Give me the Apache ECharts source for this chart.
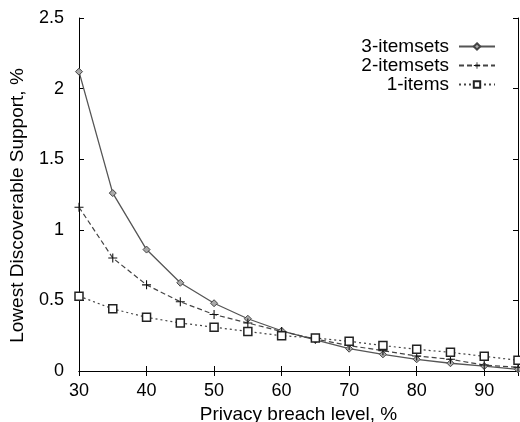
<!DOCTYPE html>
<html>
<head>
<meta charset="utf-8">
<script src="https://cdn.jsdelivr.net/npm/echarts@6/dist/echarts.min.js"></script>
<style>
  html, body { margin: 0; padding: 0; background: #fff; }
  #main { width: 520px; height: 422px; }
</style>
</head>
<body>
<div id="main"></div>
<script>
// breach levels (%) on the x axis
var breachLevels = [30, 35, 40, 45, 50, 55, 60, 65, 70, 75, 80, 85, 90, 95];

// lowest discoverable support (%) for each curve
var itemsets3 = [2.12, 1.26, 0.86, 0.625, 0.48, 0.37, 0.285, 0.22, 0.158, 0.118, 0.083, 0.055, 0.035, 0.012];
var itemsets2 = [1.16, 0.80, 0.61, 0.49, 0.40, 0.34, 0.28, 0.227, 0.18, 0.144, 0.106, 0.083, 0.042, 0.026];
var items1 = [0.53, 0.44, 0.38, 0.34, 0.31, 0.28, 0.25, 0.234, 0.21, 0.18, 0.154, 0.132, 0.104, 0.076];

var seriesNames = ['3-itemsets', '2-itemsets', '1-items'];

function pairs(ys) {
  return breachLevels.map(function (x, i) { return [x, ys[i]]; });
}

var font = 'Liberation Sans, Arial, sans-serif';
var plusPath = 'path://M0,4.4H10V5.6H0Z M4.4,0H5.6V10H4.4Z';

var myChart = echarts.init(document.getElementById('main'));

var option = {
  animation: false,
  backgroundColor: '#fff',
  textStyle: { fontFamily: font, color: '#000' },
  grid: { left: 79, right: 2, top: 18, bottom: 51, outerBoundsMode: 'none' },
  legend: {
    orient: 'vertical',
    right: 19,
    top: 34,
    align: 'right',
    itemWidth: 36,
    itemHeight: 8,
    itemGap: 0,
    padding: [3, 5, 3, 5],
    data: seriesNames,
    textStyle: { fontFamily: font, fontSize: 19, lineHeight: 19, height: 19, color: '#000', padding: [0, 5, 0, 0] }
  },
  xAxis: [
    {
      type: 'value',
      min: 30,
      max: 95,
      interval: 10,
      name: 'Privacy breach level, %',
      nameLocation: 'middle',
      nameGap: 31,
      nameTextStyle: { fontFamily: font, fontSize: 19, color: '#000' },
      axisLine: { lineStyle: { color: '#000', width: 1 } },
      axisTick: { inside: true, length: 5, lineStyle: { color: '#000' } },
      axisLabel: {
        fontFamily: font, fontSize: 18, color: '#000', margin: 11,
        showMaxLabel: false
      },
      splitLine: { show: false }
    },
    {
      type: 'value',
      position: 'top',
      min: 30,
      max: 95,
      interval: 10,
      axisLine: { lineStyle: { color: '#000', width: 1 } },
      axisTick: { inside: true, length: 5, lineStyle: { color: '#000' } },
      axisLabel: { show: false },
      splitLine: { show: false }
    }
  ],
  yAxis: [
    {
      type: 'value',
      min: 0,
      max: 2.5,
      interval: 0.5,
      name: 'Lowest Discoverable Support, %',
      nameLocation: 'middle',
      nameGap: 52,
      nameTextStyle: { fontFamily: font, fontSize: 19, color: '#000', padding: [0, 22, 0, 0] },
      axisLine: { show: true, lineStyle: { color: '#000', width: 1 } },
      axisTick: { show: true, inside: true, length: 5, lineStyle: { color: '#000' } },
      axisLabel: { fontFamily: font, fontSize: 18, color: '#000', margin: 15 },
      splitLine: { show: false }
    },
    {
      type: 'value',
      position: 'right',
      min: 0,
      max: 2.5,
      interval: 0.5,
      axisLine: { show: true, lineStyle: { color: '#000', width: 1 } },
      axisTick: { show: true, inside: true, length: 5, lineStyle: { color: '#000' } },
      axisLabel: { show: false },
      splitLine: { show: false }
    }
  ],
  series: [
    {
      name: seriesNames[0],
      type: 'line',
      data: pairs(itemsets3),
      symbol: 'diamond',
      symbolSize: 7,
      color: '#555',
      itemStyle: { color: '#aaa', borderColor: '#444', borderWidth: 1 },
      lineStyle: { color: '#555', width: 1.3, type: 'solid' }
    },
    {
      name: seriesNames[1],
      type: 'line',
      data: pairs(itemsets2),
      symbol: plusPath,
      symbolSize: 9,
      color: '#222',
      itemStyle: { color: '#111', borderWidth: 0 },
      lineStyle: { color: '#444', width: 1.2, type: [5, 3] }
    },
    {
      name: seriesNames[2],
      type: 'line',
      data: pairs(items1),
      symbol: 'rect',
      symbolSize: 8,
      color: '#222',
      itemStyle: { color: '#fff', borderColor: '#222', borderWidth: 1.5 },
      lineStyle: { color: '#444', width: 1.2, type: [2, 3] }
    }
  ]
};

myChart.setOption(option);
</script>
</body>
</html>
